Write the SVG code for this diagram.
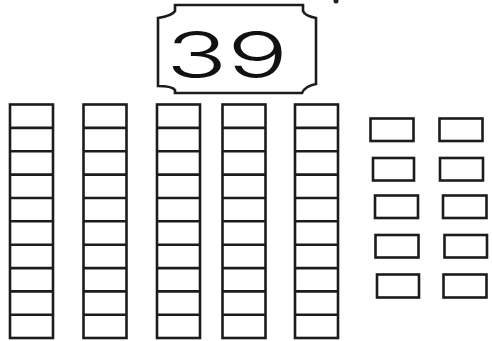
<svg xmlns="http://www.w3.org/2000/svg" xmlns:xlink="http://www.w3.org/1999/xlink" width="492" height="341" viewBox="0 0 492 341">
<style>
.ln{fill:none;stroke:#1c1c1c;stroke-width:2.6}
.u{fill:#fff;stroke:#1c1c1c;stroke-width:2.6}
.num{font-family:Inter,Roboto,"Open Sans","DejaVu Sans",sans-serif;font-weight:300;font-size:64px;fill:#111}
</style>
<defs>
<g id="rod">
<rect class="ln" x="0" y="104.5" width="43" height="233.5"/>
<path class="ln" d="M0,127.9H43M0,151.2H43M0,174.6H43M0,198H43M0,221.3H43M0,244.7H43M0,268.1H43M0,291.4H43M0,314.8H43"/>
</g>
</defs>
<rect width="492" height="341" fill="#fff"/>
<g id="label-39">
<path class="ln" d="M175,5H303V11Q305,16 316,18V84Q305,86 302,93H175V90Q172,86 158,86V18Q172,16 175,11Z"/>
<text class="num" x="166" y="78" textLength="122" lengthAdjust="spacingAndGlyphs">39</text>
</g>
<circle cx="336" cy="1" r="2.5" fill="#222"/>
<g id="tens">
<use xlink:href="#rod" x="10"/>
<use xlink:href="#rod" x="83.5"/>
<use xlink:href="#rod" x="157"/>
<use xlink:href="#rod" x="222.5"/>
<use xlink:href="#rod" x="295"/>
</g>
<g id="ones">
<rect class="u" x="370.5" y="118.5" width="43" height="22.5"/>
<rect class="u" x="373" y="158" width="41" height="22.5"/>
<rect class="u" x="375" y="195.5" width="43" height="22.5"/>
<rect class="u" x="375.5" y="235" width="43" height="22.5"/>
<rect class="u" x="377" y="274.5" width="42" height="23"/>
<rect class="u" x="439.5" y="118.5" width="43" height="22.5"/>
<rect class="u" x="440" y="158" width="43" height="22.5"/>
<rect class="u" x="443" y="195.5" width="43.5" height="22.5"/>
<rect class="u" x="444.5" y="235" width="42.5" height="22.5"/>
<rect class="u" x="443.5" y="274.5" width="43" height="23"/>
</g>
</svg>
